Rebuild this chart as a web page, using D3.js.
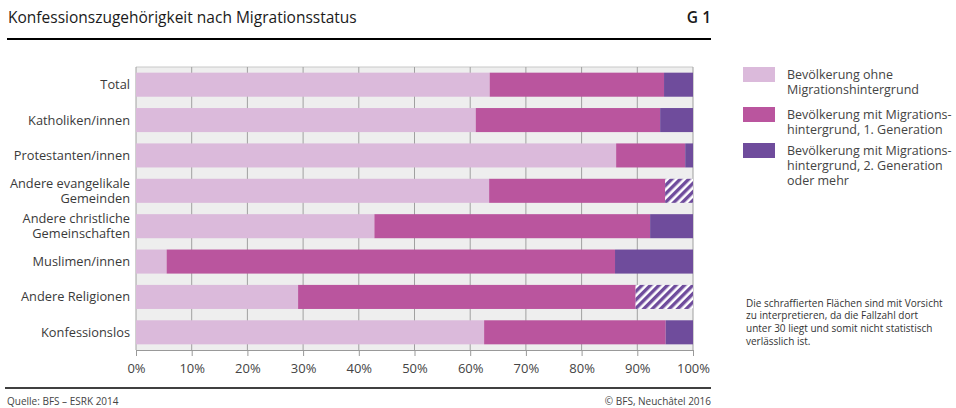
<!DOCTYPE html>
<html>
<head>
<meta charset="utf-8">
<script src="https://cdn.jsdelivr.net/npm/d3@7"></script>
<style>
  body { margin: 0; background: #fff; }
  svg text { font-family: "Open Sans", "Noto Sans", sans-serif; fill: #333; }
</style>
</head>
<body>
<div id="vis"></div>
<script>
// categories (multi-line labels split by "|")
var categories = ["Total", "Katholiken/innen", "Protestanten/innen",
  "Andere evangelikale|Gemeinden", "Andere christliche|Gemeinschaften",
  "Muslimen/innen", "Andere Religionen", "Konfessionslos"];

// shares in %
var ohne = [63.5, 61.0, 86.2, 63.4, 42.8, 5.5, 29.1, 62.5];
var gen1 = [31.3, 33.1, 12.4, 31.6, 49.5, 80.5, 60.6, 32.6];
var gen2 = [5.2, 5.9, 1.4, 5.0, 7.7, 14.0, 10.3, 4.9];
// which gen2 segments are hatched (n < 30)
var unsicher = [false, false, false, true, false, false, true, false];

var seriesNames = ["Bevölkerung ohne|Migrationshintergrund",
  "Bevölkerung mit Migrations-|hintergrund, 1. Generation",
  "Bevölkerung mit Migrations-|hintergrund, 2. Generation|oder mehr"];
var colors = ["#dbbadb", "#ba559e", "#6f4c9c"];
var ticks = [0, 10, 20, 30, 40, 50, 60, 70, 80, 90, 100];

var W = 956, H = 408;
var margin = {top: 67, left: 136, right: 263, bottom: 58};

var svg = d3.select("#vis").append("svg")
  .attr("width", W).attr("height", H);

var defs = svg.append("defs");
var pat = defs.append("pattern")
  .attr("id", "hatch")
  .attr("patternUnits", "userSpaceOnUse")
  .attr("width", 6).attr("height", 6)
  .attr("patternTransform", "rotate(45)");
pat.append("rect").attr("width", 6).attr("height", 6).attr("fill", "#fff");
pat.append("rect").attr("width", 3.4).attr("height", 6).attr("fill", colors[2]);

// title
svg.append("text").attr("x", 8).attr("y", 23)
  .attr("font-size", 15.5).style("fill", "#1a1a1a")
  .text("Konfessionszugehörigkeit nach Migrationsstatus");
svg.append("text").attr("x", 711).attr("y", 23)
  .attr("text-anchor", "end").attr("font-size", 15.5).attr("font-weight", 600)
  .style("fill", "#1a1a1a").text("G 1");
svg.append("line").attr("x1", 7).attr("x2", 711).attr("y1", 39).attr("y2", 39)
  .attr("stroke", "#000").attr("stroke-width", 2);

var x = d3.scaleLinear().domain([0, 100]).range([margin.left, W - margin.right]);
var y = d3.scaleBand().domain(categories)
  .range([margin.top, H - margin.bottom]).paddingInner(0.32).paddingOuter(0.16);

// background and grid
svg.append("rect")
  .attr("x", x(0)).attr("y", margin.top)
  .attr("width", x(100) - x(0)).attr("height", H - margin.bottom - margin.top)
  .attr("fill", "#eeeeee");
svg.append("line").attr("x1", x(0)).attr("x2", x(100))
  .attr("y1", margin.top).attr("y2", margin.top).attr("stroke", "#c8c8c8");

var xAxis = d3.axisBottom(x).tickValues(ticks)
  .tickSize(6).tickFormat(d => d + "%");
var gx = svg.append("g")
  .attr("transform", `translate(0,${H - margin.bottom})`)
  .call(xAxis);
gx.select(".domain").attr("stroke", "#999");
gx.selectAll(".tick line").attr("stroke", "#999");
gx.selectAll(".tick text").attr("font-size", 13).attr("dy", "1.1em")
  .style("fill", "#444").attr("font-family", "\"Open Sans\", sans-serif");

svg.append("g").selectAll("line").data(ticks).join("line")
  .attr("x1", d => x(d)).attr("x2", d => x(d))
  .attr("y1", margin.top).attr("y2", H - margin.bottom)
  .attr("stroke", "#a0a0a0");

// stacked bars
var rows = categories.map((c, i) => ({cat: c, vals: [ohne[i], gen1[i], gen2[i]], hatch: unsicher[i]}));
var bars = svg.append("g");
rows.forEach(r => {
  var acc = 0;
  r.vals.forEach((v, k) => {
    bars.append("rect")
      .attr("x", x(acc))
      .attr("y", y(r.cat))
      .attr("width", x(acc + v) - x(acc))
      .attr("height", y.bandwidth())
      .attr("fill", (k === 2 && r.hatch) ? "url(#hatch)" : colors[k]);
    acc += v;
  });
});

// category labels
var lab = svg.append("g").selectAll("text").data(categories).join("text")
  .attr("text-anchor", "end")
  .attr("font-size", 12.8)
  .style("fill", "#3a3a3a");
lab.each(function(d) {
  var parts = d.split("|");
  var cy = y(d) + y.bandwidth() / 2;
  var t = d3.select(this);
  parts.forEach((p, j) => {
    t.append("tspan").attr("x", 130)
      .attr("y", cy + (j - (parts.length - 1) / 2) * 15.5)
      .attr("dy", "0.35em").text(p);
  });
});

// legend
var legTops = [67, 107, 143];
seriesNames.forEach((s, i) => {
  svg.append("rect").attr("x", 743).attr("y", legTops[i])
    .attr("width", 32).attr("height", 15).attr("fill", colors[i]);
  var t = svg.append("text").attr("font-size", 12.5).style("fill", "#444");
  s.split("|").forEach((p, j) => {
    t.append("tspan").attr("x", 787).attr("y", legTops[i] + 8 + j * 15)
      .attr("dy", "0.35em").text(p);
  });
});

// note
var note = ["Die schraffierten Flächen sind mit Vorsicht",
  "zu interpretieren, da die Fallzahl dort",
  "unter 30 liegt und somit nicht statistisch",
  "verlässlich ist."];
var nt = svg.append("text").attr("font-size", 10).style("fill", "#333");
note.forEach((p, j) => {
  nt.append("tspan").attr("x", 746).attr("y", 303 + j * 12.8).attr("dy", "0.35em").text(p);
});

// footer
svg.append("line").attr("x1", 5).attr("x2", 711).attr("y1", 388).attr("y2", 388)
  .attr("stroke", "#000").attr("stroke-width", 1.6);
svg.append("text").attr("x", 7).attr("y", 405).attr("font-size", 10)
  .style("fill", "#444").text("Quelle: BFS – ESRK 2014");
svg.append("text").attr("x", 711).attr("y", 405).attr("font-size", 10)
  .attr("text-anchor", "end").style("fill", "#444").text("© BFS, Neuchâtel 2016");
</script>
</body>
</html>
